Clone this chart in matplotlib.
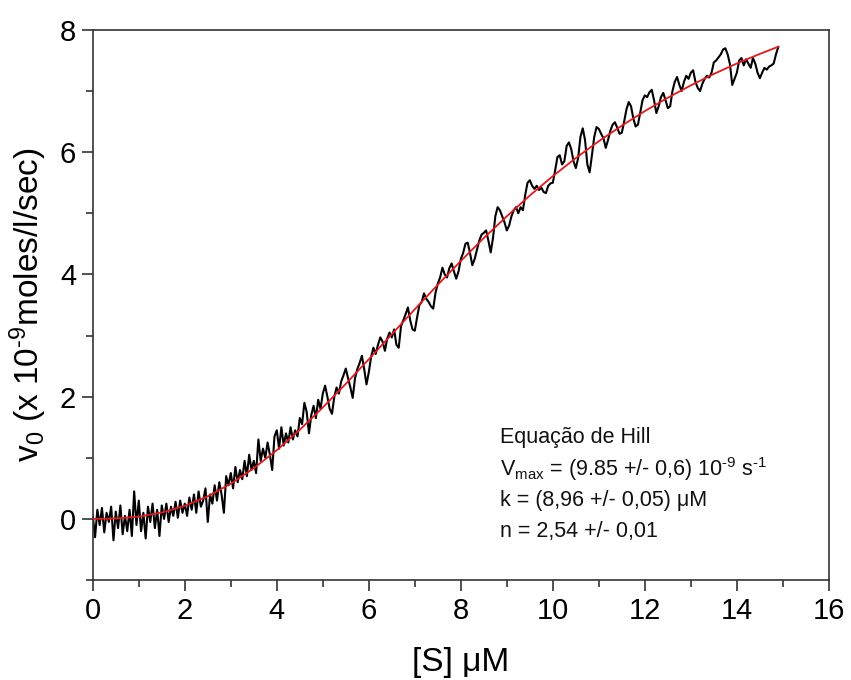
import matplotlib
matplotlib.use("Agg")
import matplotlib.pyplot as plt
import numpy as np
from matplotlib.ticker import MultipleLocator

plt.rcParams['font.family'] = ['Liberation Sans', 'DejaVu Sans']
plt.rcParams['mathtext.fontset'] = 'custom'
plt.rcParams['mathtext.rm'] = 'Liberation Sans'
plt.rcParams['mathtext.it'] = 'Liberation Sans'
plt.rcParams['mathtext.default'] = 'regular'

# substrate concentration grid of the recorded trace (uM)
s_conc = np.round(np.arange(0, 14.9 + 0.001, 0.05), 2)

v_meas = [
    0.05, -0.30, 0.15, -0.10, 0.18, -0.22, 0.10, -0.05, 0.20, -0.35,
    0.12, -0.15, 0.22, -0.25, 0.05, -0.20, 0.15, -0.28, 0.45, -0.10,
    0.30, -0.20, 0.10, -0.32, 0.20, -0.05, 0.25, -0.15, 0.15, -0.28,
    0.22, 0.00, 0.25, -0.05, 0.20, 0.05, 0.28, 0.02, 0.30, 0.10,
    0.25, 0.05, 0.35, 0.15, 0.40, 0.10, 0.45, 0.20, 0.30, 0.50,
    -0.05, 0.40, 0.25, 0.55, 0.30, 0.60, 0.40, 0.10, 0.70, 0.55,
    0.75, 0.50, 0.85, 0.60, 0.80, 0.65, 0.95, 0.70, 1.05, 0.80,
    0.95, 0.75, 1.30, 0.95, 1.15, 1.00, 1.25, 1.05, 0.80, 1.35,
    1.45, 1.15, 1.50, 1.20, 1.40, 1.25, 1.50, 1.30, 1.45, 1.35,
    1.65, 1.55, 1.90, 1.75, 1.40, 1.70, 1.85, 1.65, 1.95, 1.80,
    2.05, 2.18, 2.00, 1.80, 1.72, 2.00, 2.15, 2.05, 2.25, 2.35,
    2.46, 2.30, 2.15, 1.98, 2.30, 2.45, 2.55, 2.67, 2.45, 2.20,
    2.40, 2.65, 2.80, 2.70, 2.85, 2.97, 2.90, 2.75, 2.95, 3.05,
    2.97, 3.10, 2.85, 2.80, 3.15, 3.25, 3.35, 3.46, 3.25, 3.10,
    3.08, 3.30, 3.50, 3.55, 3.69, 3.60, 3.55, 3.48, 3.44, 3.70,
    3.85, 3.95, 4.11, 4.00, 3.95, 4.10, 4.18, 4.05, 3.93, 4.05,
    4.25, 4.35, 4.50, 4.52, 4.35, 4.15, 4.25, 4.40, 4.55, 4.65,
    4.68, 4.72, 4.55, 4.36, 4.60, 4.95, 5.10, 5.05, 4.95, 4.85,
    4.72, 4.80, 4.95, 5.05, 5.10, 5.00, 5.10, 5.05, 5.30, 5.50,
    5.54, 5.45, 5.40, 5.45, 5.38, 5.42, 5.35, 5.33, 5.45, 5.49,
    5.50, 5.70, 5.92, 5.95, 5.80, 5.85, 6.10, 6.16, 6.05, 5.85,
    5.74, 5.90, 6.25, 6.39, 6.20, 5.80, 5.67, 5.95, 6.25, 6.41,
    6.38, 6.30, 6.23, 6.07, 6.20, 6.35, 6.45, 6.49, 6.40, 6.30,
    6.32, 6.50, 6.70, 6.82, 6.75, 6.55, 6.42, 6.45, 6.65, 6.85,
    6.93, 6.90, 6.98, 7.02, 6.85, 6.64, 6.75, 6.90, 6.97, 6.85,
    6.72, 6.75, 7.00, 7.15, 7.23, 7.10, 7.00, 7.15, 7.25, 7.20,
    7.30, 7.34, 7.15, 7.05, 7.00, 7.12, 7.20, 7.25, 7.22, 7.30,
    7.47, 7.50, 7.55, 7.60, 7.68, 7.70, 7.60, 7.44, 7.10, 7.20,
    7.30, 7.50, 7.54, 7.42, 7.52, 7.45, 7.38, 7.54, 7.45, 7.30,
    7.21, 7.30, 7.38, 7.35, 7.40, 7.42, 7.45, 7.60, 7.72,
]

# Hill fit curve as drawn in red
fit_s = [0.0, 0.5, 1.0, 1.5, 2.0, 2.5, 3.0, 3.5, 4.0, 4.5, 5.0, 5.5, 6.0, 6.5,
         7.0, 7.5, 8.0, 8.5, 9.0, 9.5, 10.0, 10.5, 11.0, 11.5, 12.0, 12.5,
         13.0, 13.5, 14.0, 14.5, 14.9]
fit_v = [0.0, 0.007, 0.037, 0.104, 0.214, 0.370, 0.576, 0.829, 1.124, 1.458,
         1.823, 2.210, 2.612, 3.021, 3.430, 3.831, 4.220, 4.596, 4.951, 5.291,
         5.608, 5.904, 6.180, 6.434, 6.672, 6.891, 7.093, 7.280, 7.451, 7.608,
         7.725]

fit_text = [
    "Equação de Hill",
    r"V$_{max}$ = (9.85 +/- 0,6) 10$^{\text{-9}}$ s$^{\text{-1}}$",
    "k = (8,96 +/- 0,05) μM",
    "n = 2,54 +/- 0,01",
]

fig = plt.figure(figsize=(8.51, 6.8), dpi=100)
ax = fig.add_axes([0.109, 0.147, 0.865, 0.809])

ax.plot(s_conc, v_meas, color='black', lw=1.5, zorder=2)
ax.plot(fit_s, fit_v, color='#e3191c', lw=1.3, zorder=3)

ax.set_xlim(0, 16)
ax.set_ylim(-1, 8)
ax.xaxis.set_major_locator(MultipleLocator(2))
ax.xaxis.set_minor_locator(MultipleLocator(1))
ax.yaxis.set_major_locator(MultipleLocator(2))
ax.yaxis.set_minor_locator(MultipleLocator(1))
ax.tick_params(which='both', direction='out', top=False, right=False,
               width=1.1, color='#222222', labelsize=21)
ax.tick_params(which='major', length=8, pad=4)
ax.tick_params(which='minor', length=5)
for sp in ax.spines.values():
    sp.set_linewidth(1.2)
    sp.set_color('#333333')

ax.set_xlabel("[S] μM", fontsize=24, labelpad=16)
ax.set_ylabel(r"v$_0$ (x 10$^{\text{-9}}$moles/l/sec)", fontsize=24, labelpad=8)

ys = [0.26, 0.202, 0.145, 0.089]
for t, y in zip(fit_text, ys):
    ax.text(0.553, y, t, transform=ax.transAxes, fontsize=15.5,
            va='center', ha='left', color='#111111')

fig.savefig("out.png", dpi=100)
